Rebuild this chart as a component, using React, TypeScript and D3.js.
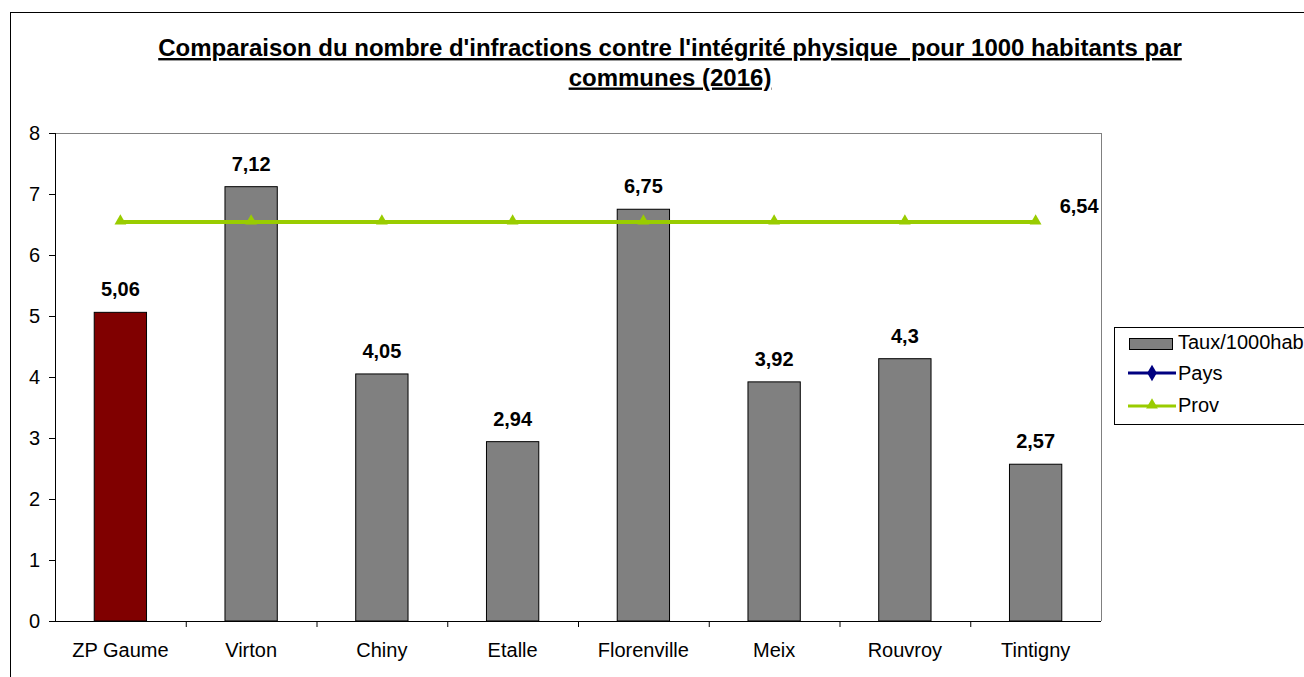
import React from "react";
import * as d3 from "d3";

const categories = ["ZP Gaume", "Virton", "Chiny", "Etalle", "Florenville", "Meix", "Rouvroy", "Tintigny"];
const tauxValues = [5.06, 7.12, 4.05, 2.94, 6.75, 3.92, 4.3, 2.57];
const tauxLabels = ["5,06", "7,12", "4,05", "2,94", "6,75", "3,92", "4,3", "2,57"];
const provValues = [6.54, 6.54, 6.54, 6.54, 6.54, 6.54, 6.54, 6.54];
const provLabel = "6,54";
const yTicks = [0, 1, 2, 3, 4, 5, 6, 7, 8];
const titleLines = [
  "Comparaison du nombre d'infractions contre l'intégrité physique  pour 1000 habitants par",
  "communes (2016)",
];
const legendItems = ["Taux/1000hab", "Pays", "Prov"];

const W = 1304;
const H = 677;
const plot = { left: 55, right: 1101, top: 133, bottom: 621 };
const FONT = "Arial, 'Liberation Sans', Helvetica, sans-serif";

export default function App() {
  const x = d3.scaleBand<string>().domain(categories).range([plot.left, plot.right]).paddingInner(0).paddingOuter(0);
  const y = d3.scaleLinear().domain([0, 8]).range([plot.bottom, plot.top]);
  const barW = x.bandwidth() * 0.4;
  const cx = (c: string) => (x(c) as number) + x.bandwidth() / 2;
  const line = d3
    .line<number>()
    .x((_, i) => cx(categories[i]))
    .y((d) => y(d));
  const tri = d3.symbol().type(d3.symbolTriangle).size(60);
  const diamond = d3.symbol().type(d3.symbolDiamond).size(80);

  return (
    <svg
      width={W}
      height={H}
      style={{ position: "absolute", left: 0, top: 0, background: "#fff", fontFamily: FONT }}
    >
      <rect x={0} y={0} width={W} height={H} fill="#fff" />
      <rect x={10.5} y={12.5} width={1400} height={800} fill="none" stroke="#000" strokeWidth={1} />

      {/* title */}
      {titleLines.map((t, i) => (
        <text
          key={i}
          x={670}
          y={56 + i * 29.5}
          textAnchor="middle"
          fontWeight="bold"
          fontSize={24}
          textDecoration="underline"
          fill="#000"
          style={{ whiteSpace: "pre" }}
        >
          {t}
        </text>
      ))}

      {/* plot border */}
      <line x1={plot.left} x2={plot.right} y1={plot.top + 0.5} y2={plot.top + 0.5} stroke="#808080" />
      <line x1={plot.right + 0.5} x2={plot.right + 0.5} y1={plot.top} y2={plot.bottom} stroke="#808080" />

      {/* bars */}
      {categories.map((c, i) => (
        <rect
          key={c}
          x={cx(c) - barW / 2}
          y={y(tauxValues[i])}
          width={barW}
          height={plot.bottom - y(tauxValues[i])}
          fill={i === 0 ? "#800000" : "#808080"}
          stroke="#000"
          strokeWidth={1}
        />
      ))}

      {/* bar labels */}
      {categories.map((c, i) => (
        <text
          key={c}
          x={cx(c)}
          y={y(tauxValues[i]) - 16}
          textAnchor="middle"
          fontWeight="bold"
          fontSize={20}
          fill="#000"
        >
          {tauxLabels[i]}
        </text>
      ))}

      {/* axes */}
      <line x1={plot.left + 0.5} x2={plot.left + 0.5} y1={plot.top} y2={plot.bottom} stroke="#000" />
      <line x1={plot.left} x2={plot.right} y1={plot.bottom + 0.5} y2={plot.bottom + 0.5} stroke="#000" />
      {yTicks.map((t) => (
        <g key={t}>
          <line x1={plot.left - 6} x2={plot.left} y1={y(t) + 0.5} y2={y(t) + 0.5} stroke="#000" />
          <text x={plot.left - 15} y={y(t) + 7} textAnchor="end" fontSize={20} fill="#000">
            {t}
          </text>
        </g>
      ))}
      {categories.map((c, i) => (
        <g key={c}>
          {i > 0 && (
            <line
              x1={(x(c) as number) + 0.5}
              x2={(x(c) as number) + 0.5}
              y1={plot.bottom}
              y2={plot.bottom + 6}
              stroke="#000"
            />
          )}
          <text x={cx(c)} y={plot.bottom + 36} textAnchor="middle" fontSize={20} fill="#000">
            {c}
          </text>
        </g>
      ))}

      {/* prov line */}
      <path d={line(provValues) || ""} fill="none" stroke="#99CC00" strokeWidth={4} />
      {categories.map((c, i) => (
        <path
          key={c}
          d={tri() || ""}
          transform={`translate(${cx(c)},${y(provValues[i]) - 1})`}
          fill="#99CC00"
        />
      ))}
      <text
        x={cx(categories[categories.length - 1]) + 24}
        y={y(provValues[provValues.length - 1]) - 9}
        fontWeight="bold"
        fontSize={20}
        fill="#000"
      >
        {provLabel}
      </text>

      {/* legend */}
      <rect x={1114.5} y={327.5} width={200} height={97} fill="#fff" stroke="#000" />
      <rect x={1129.5} y={338.5} width={43} height={11} fill="#808080" stroke="#000" />
      <text x={1178} y={349} fontSize={20} fill="#000">
        {legendItems[0]}
      </text>
      <line x1={1128} x2={1176} y1={373} y2={373} stroke="#000080" strokeWidth={3} />
      <path d={diamond() || ""} transform="translate(1152,373)" fill="#000080" />
      <text x={1178} y={380} fontSize={20} fill="#000">
        {legendItems[1]}
      </text>
      <line x1={1128} x2={1176} y1={406} y2={406} stroke="#99CC00" strokeWidth={3} />
      <path d={tri() || ""} transform="translate(1152,405)" fill="#99CC00" />
      <text x={1178} y={412} fontSize={20} fill="#000">
        {legendItems[2]}
      </text>
    </svg>
  );
}
